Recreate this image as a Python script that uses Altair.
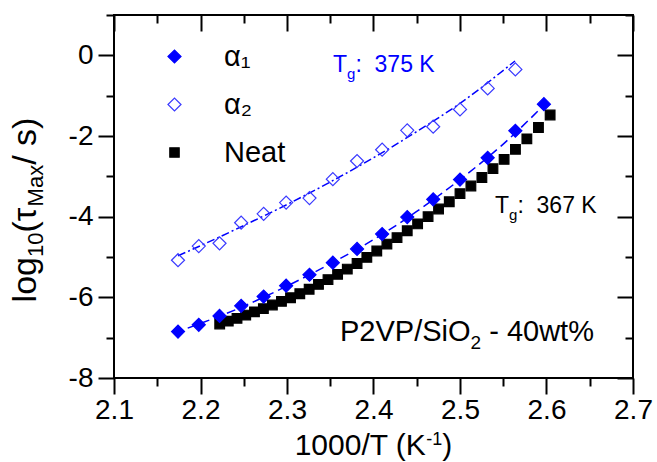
import altair as alt
import pandas as pd

FONT = "Liberation Sans"
BLUE = "#0000ff"
BLUE_OPEN = "#3a3aff"
NBSP = "\u00a0"

# ---------------- data ----------------
alpha1_x = [2.174, 2.198, 2.222, 2.247, 2.273, 2.299, 2.326, 2.353, 2.381, 2.410,
            2.439, 2.469, 2.500, 2.532, 2.564, 2.597]
alpha1_y = [-6.85, -6.68, -6.46, -6.21, -5.98, -5.71, -5.44, -5.14, -4.80, -4.43,
            -4.01, -3.57, -3.08, -2.54, -1.87, -1.21]

alpha2_x = [2.174, 2.198, 2.222, 2.247, 2.273, 2.299, 2.326, 2.353, 2.381, 2.410,
            2.439, 2.469, 2.500, 2.532, 2.564]
alpha2_y = [-5.08, -4.73, -4.66, -4.15, -3.93, -3.65, -3.54, -3.07, -2.62, -2.34,
            -1.86, -1.77, -1.34, -0.82, -0.35]

neat_x = [2.2222, 2.2321, 2.2422, 2.2523, 2.2624, 2.2727, 2.2831, 2.2936, 2.3041, 2.3148,
          2.3256, 2.3364, 2.3474, 2.3585, 2.3697, 2.3810, 2.3923, 2.4038, 2.4155, 2.4272,
          2.4390, 2.4510, 2.4631, 2.4752, 2.4876, 2.5000, 2.5126, 2.5253, 2.5381, 2.5510,
          2.5641, 2.5773, 2.5907, 2.6042]
neat_y = [-6.66, -6.59, -6.52, -6.44, -6.36, -6.28, -6.19, -6.10, -6.01, -5.91,
          -5.80, -5.68, -5.56, -5.43, -5.30, -5.16, -5.01, -4.85, -4.68, -4.52,
          -4.35, -4.18, -4.00, -3.81, -3.63, -3.43, -3.24, -3.03, -2.81, -2.58,
          -2.33, -2.07, -1.79, -1.48]

fit1_x = [2.17, 2.25, 2.30, 2.35, 2.40, 2.45, 2.50, 2.55, 2.60]
fit1_y = [-6.88, -6.22, -5.72, -5.17, -4.57, -3.87, -3.08, -2.20, -1.17]

fit2_x = [2.174, 2.20, 2.25, 2.30, 2.35, 2.40, 2.45, 2.50, 2.5636]
fit2_y = [-4.97, -4.72, -4.22, -3.70, -3.14, -2.54, -1.89, -1.19, -0.14]

series_names = ["α₁", "α₂", "Neat"]

x_major = [2.1, 2.2, 2.3, 2.4, 2.5, 2.6, 2.7]
x_minor = [2.15, 2.25, 2.35, 2.45, 2.55, 2.65]
y_major = [-8, -6, -4, -2, 0]
y_minor = [-7, -5, -3, -1, 1]

# annotation texts (main, subscript/superscript, rest)
tg_a2_text = ["T", "g", ":" + NBSP + NBSP + "375 K"]
tg_neat_text = ["T", "g", ":" + NBSP + NBSP + "367 K"]
sample_text = ["P2VP/SiO", "2", "- 40wt%"]
xtitle_text = ["1000/T (K", "-1", ")"]
ytitle_text = ["log", "10", "(τ", "Max", "/ s)"]

# ---------------- layout helpers ----------------
W_PLOT, H_PLOT = 519, 363
ADV = {' ': .278, NBSP: .278, '%': .889, '(': .333, ')': .333, '-': .333, '/': .278, ':': .278,
       'K': .667, 'M': .833, 'N': .722, 'O': .778, 'P': .667, 'S': .667, 'T': .611,
       'V': .667, 'a': .556, 'e': .556, 'g': .556, 'i': .222, 'l': .222, 'o': .556,
       's': .5, 't': .278, 'w': .722, 'x': .5, 'τ': .437}


def tw(s, size):
    return sum(ADV.get(c, .556) for c in s) * size


def piece(s, x, y, size, color="black", angle=0):
    return alt.Chart(pd.DataFrame({"label": [s]})).mark_text(
        font=FONT, fontSize=size, color=color, align="left",
        baseline="alphabetic", angle=angle
    ).encode(text="label:N", x=alt.value(x), y=alt.value(y))


def rich(parts, x0, y0, color="black"):
    # parts: (text, font size, baseline shift, leading gap in em)
    out, x = [], x0
    for s, size, shift, gap in parts:
        x += gap * size
        out.append(piece(s, x, y0 + shift, size, color))
        x += tw(s, size)
    return out


def rich_vertical(parts, xb, y0, color="black"):
    out, y = [], y0
    for s, size, shift, gap in parts:
        y -= gap * size
        out.append(piece(s, xb + shift, y, size, color, angle=270))
        y -= tw(s, size)
    return out


# ---------------- scales / axes ----------------
xs = alt.Scale(domain=[2.1, 2.7], nice=False, zero=False)
ys = alt.Scale(domain=[-8, 1], nice=False, zero=False)

tick_common = dict(grid=False, title=None, tickColor="black", tickWidth=2, domain=False)

ax_x_bottom = alt.Axis(orient="bottom", values=x_major, tickSize=16, labels=True,
                       labelExpr="format(datum.value, '.1f')", labelFont=FONT,
                       labelFontSize=28, labelColor="black", labelPadding=2,
                       labelFlush=False, labelOverlap=False, **tick_common)
ax_x_bottom_minor = alt.Axis(orient="bottom", values=x_minor, tickSize=8, labels=False, **tick_common)
ax_x_top = alt.Axis(orient="top", values=x_major, tickSize=16, offset=-16, labels=False, **tick_common)
ax_x_top_minor = alt.Axis(orient="top", values=x_minor, tickSize=8, offset=-8, labels=False, **tick_common)

ax_y_left = alt.Axis(orient="left", values=y_major, tickSize=16, labels=True,
                     labelExpr="datum.value + ''", labelFont=FONT, labelFontSize=28,
                     labelColor="black", labelPadding=5, labelFlush=False,
                     labelOverlap=False, **tick_common)
ax_y_left_minor = alt.Axis(orient="left", values=y_minor, tickSize=8, labels=False, **tick_common)
ax_y_right = alt.Axis(orient="right", values=y_major, tickSize=16, offset=-16, labels=False, **tick_common)
ax_y_right_minor = alt.Axis(orient="right", values=y_minor, tickSize=8, offset=-8, labels=False, **tick_common)

# ---------------- data frames ----------------
df_neat = pd.DataFrame({"x": neat_x, "y": neat_y, "series": series_names[2]})
df_alpha = pd.concat([
    pd.DataFrame({"x": alpha2_x, "y": alpha2_y, "series": series_names[1]}),
    pd.DataFrame({"x": alpha1_x, "y": alpha1_y, "series": series_names[0]}),
], ignore_index=True)
df_fit1 = pd.DataFrame({"x": fit1_x, "y": fit1_y})
df_fit2 = pd.DataFrame({"x": fit2_x, "y": fit2_y})

legend = alt.Legend(title=None, orient="none", legendX=46, legendY=27,
                    labelFont=FONT, labelFontSize=29, labelColor="black",
                    symbolSize=170, symbolStrokeWidth=1.2, labelOffset=35,
                    rowPadding=18, padding=0, symbolOpacity=1)
square_path = "M-0.72,-0.72H0.72V0.72H-0.72Z"
shape_enc = alt.Shape("series:N", scale=alt.Scale(domain=series_names,
                      range=["diamond", "diamond", square_path]), legend=legend)
fill_enc = alt.Fill("series:N", scale=alt.Scale(domain=series_names,
                    range=[BLUE, "transparent", "#000000"]), legend=legend)
stroke_enc = alt.Stroke("series:N", scale=alt.Scale(domain=series_names,
                        range=[BLUE, BLUE_OPEN, "#000000"]), legend=legend)

fit1 = alt.Chart(df_fit1).mark_line(color=BLUE, strokeWidth=1.5, strokeDash=[9, 5],
                                    interpolate="monotone").encode(
    x=alt.X("x:Q", scale=xs, axis=ax_x_top_minor),
    y=alt.Y("y:Q", scale=ys, axis=ax_y_right_minor))

fit2 = alt.Chart(df_fit2).mark_line(color=BLUE, strokeWidth=1.5, strokeDash=[8, 3, 2, 3],
                                    interpolate="monotone").encode(
    x=alt.X("x:Q", scale=xs, axis=ax_x_top),
    y=alt.Y("y:Q", scale=ys, axis=ax_y_right))

neat = alt.Chart(df_neat).mark_point(filled=True, size=180, opacity=1, strokeWidth=1.2).encode(
    x=alt.X("x:Q", scale=xs, axis=ax_x_bottom_minor),
    y=alt.Y("y:Q", scale=ys, axis=ax_y_left_minor),
    shape=shape_enc, fill=fill_enc, stroke=stroke_enc)

alpha = alt.Chart(df_alpha).mark_point(filled=True, size=170, opacity=1, strokeWidth=1.2).encode(
    x=alt.X("x:Q", scale=xs, axis=ax_x_bottom),
    y=alt.Y("y:Q", scale=ys, axis=ax_y_left),
    shape=shape_enc, fill=fill_enc, stroke=stroke_enc)

# ---------------- annotations ----------------
texts = []
texts += rich([(tg_a2_text[0], 23, 0, 0), (tg_a2_text[1], 15, 7, 0), (tg_a2_text[2], 23, 0, 0)],
              219, 57, BLUE)
texts += rich([(tg_neat_text[0], 23, 0, 0), (tg_neat_text[1], 15, 7, 0), (tg_neat_text[2], 23, 0, 0)],
              381, 198)
texts += rich([(sample_text[0], 29, 0, 0), (sample_text[1], 19, 8, 0), (sample_text[2], 29, 0, 0.278)],
              226, 326)

xt_parts = [(xtitle_text[0], 30, 0, 0), (xtitle_text[1], 18, -10, 0), (xtitle_text[2], 30, 0, 0)]
xt_w = sum(tw(s, sz) for s, sz, _, _ in xt_parts)
texts += rich(xt_parts, W_PLOT / 2 - xt_w / 2, 440)

yt_parts = [(ytitle_text[0], 34, 0, 0), (ytitle_text[1], 22, 7, 0), (ytitle_text[2], 34, 0, 0),
            (ytitle_text[3], 22, 7, 0), (ytitle_text[4], 34, 0, 0)]
yt_w = sum(tw(s, sz) for s, sz, _, _ in yt_parts)
texts += rich_vertical(yt_parts, -78, 195 + yt_w / 2)

chart = alt.layer(fit1, fit2, neat, alpha, *texts).resolve_axis(
    x="independent", y="independent"
).properties(
    width=W_PLOT, height=H_PLOT,
    padding={"left": 114, "top": 15, "right": 24, "bottom": 84},
    autosize=alt.AutoSizeParams(type="none"),
    background="white",
).configure_view(stroke="black", strokeWidth=2)

chart.save("out.html", embed_options={"renderer": "svg", "actions": False})
